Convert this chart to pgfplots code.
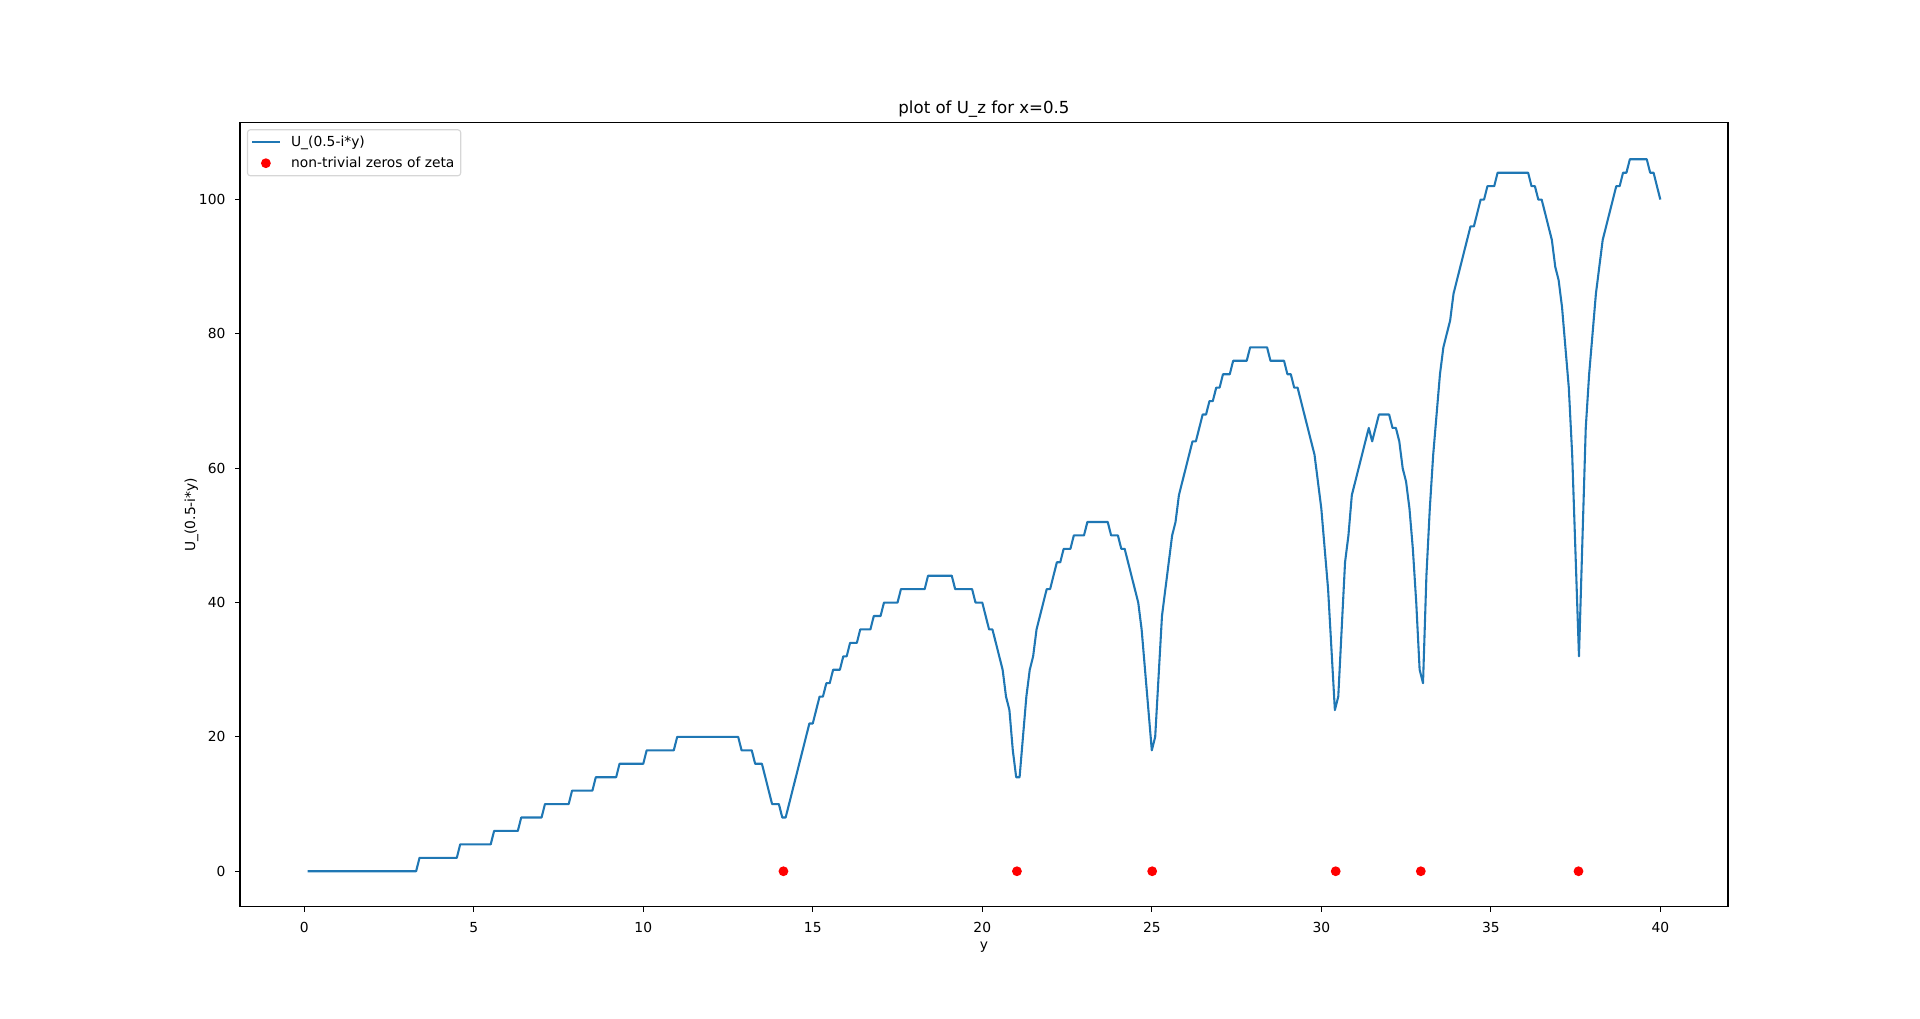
\documentclass[border=0pt]{standalone}
\usepackage{fontspec}
\setmainfont{DejaVu Sans}
\usepackage{pgfplots}
\pgfplotsset{compat=1.18}
\definecolor{mplblue}{RGB}{31,119,180}
\definecolor{legendedge}{gray}{0.84}
\pgfplotsset{
  linelegend/.style={legend image code/.code={\draw[##1] (0bp,0bp) -- (20bp,0bp);}},
  dotlegend/.style={legend image code/.code={\path (0bp,0bp) (20bp,0bp);
    \draw[##1] plot coordinates {(10bp,0bp)};}},
}

\begin{document}
\begin{tikzpicture}
% figure 19.2in x 10.19in, axes at matplotlib default subplot params
\path[use as bounding box] (-2.4in,-1.1209in) rectangle (16.8in,9.0691in);
\begin{axis}[
  scale only axis,
  width=14.88in, height=7.8463in,
  xmin=-1.895, xmax=41.995, ymin=-5.31, ymax=111.51,
  xtick={0,5,...,40}, ytick={0,20,...,100},
  tick pos=left, tick align=outside,
  major tick length=3.5bp,
  every tick/.style={black, line width=0.8bp},
  axis line style={line width=0.8bp},
  /pgf/number format/assume math mode=true,
  tick label style={font=\fontsize{10}{12}\selectfont},
  xticklabel style={yshift=-4bp},
  yticklabel style={xshift=-3.5bp},
  label style={font=\fontsize{10}{12}\selectfont},
  xlabel={y}, ylabel={U\_(0.5-i*y)},
  ylabel style={yshift=-6.5bp},
  title={plot of U\_z for x=0.5},
  every axis title shift=0pt,
  title style={font=\fontsize{12}{14.4}\selectfont, at={(0.5,1)}, anchor=base, yshift=6bp, inner sep=0pt},
  legend style={at={(0,1)}, anchor=north west, xshift=5bp, yshift=-5bp,
    draw=legendedge, fill=white, line width=0.8bp, rounded corners=2bp,
    font=\fontsize{10}{12}\selectfont, inner xsep=2.5bp, inner ysep=2.5bp,
    column sep=5.4bp, row sep=2bp},
  legend cell align=left,
]
\addplot[color=mplblue, line width=1.5bp, line join=round, linelegend]
  coordinates {
  (0.1,0) (3.3,0) (3.4,2) (4.5,2) (4.6,4) (5.5,4) (5.6,6) (6.3,6) (6.4,8)
  (7.0,8) (7.1,10) (7.8,10) (7.9,12) (8.5,12) (8.6,14) (9.2,14) (9.3,16)
  (10.0,16) (10.1,18) (10.9,18) (11.0,20) (12.8,20) (12.9,18) (13.2,18)
  (13.3,16) (13.5,16) (13.8,10) (14.0,10) (14.1,8) (14.2,8) (14.9,22)
  (15.0,22) (15.2,26) (15.3,26) (15.4,28) (15.5,28) (15.6,30) (15.8,30)
  (15.9,32) (16.0,32) (16.1,34) (16.3,34) (16.4,36) (16.7,36) (16.8,38)
  (17.0,38) (17.1,40) (17.5,40) (17.6,42) (18.3,42) (18.4,44) (19.1,44)
  (19.2,42) (19.7,42) (19.8,40) (20.0,40) (20.2,36) (20.3,36) (20.6,30)
  (20.7,26) (20.8,24) (20.9,18) (21.0,14) (21.1,14) (21.3,26) (21.4,30)
  (21.5,32) (21.6,36) (21.9,42) (22.0,42) (22.2,46) (22.3,46) (22.4,48)
  (22.6,48) (22.7,50) (23.0,50) (23.1,52) (23.7,52) (23.8,50) (24.0,50)
  (24.1,48) (24.2,48) (24.6,40) (24.7,36) (25.0,18) (25.1,20) (25.3,38)
  (25.6,50) (25.7,52) (25.8,56) (26.2,64) (26.3,64) (26.5,68) (26.6,68)
  (26.7,70) (26.8,70) (26.9,72) (27.0,72) (27.1,74) (27.3,74) (27.4,76)
  (27.8,76) (27.9,78) (28.4,78) (28.5,76) (28.9,76) (29.0,74) (29.1,74)
  (29.2,72) (29.3,72) (29.8,62) (30.0,54) (30.2,42) (30.4,24) (30.5,26)
  (30.7,46) (30.8,50) (30.9,56) (31.4,66) (31.5,64) (31.7,68) (32.0,68)
  (32.1,66) (32.2,66) (32.3,64) (32.4,60) (32.5,58) (32.6,54) (32.7,48)
  (32.8,40) (32.9,30) (33.0,28) (33.1,44) (33.2,54) (33.3,62) (33.4,68)
  (33.5,74) (33.6,78) (33.7,80) (33.8,82) (33.9,86) (34.2,92) (34.4,96)
  (34.5,96) (34.7,100) (34.8,100) (34.9,102) (35.1,102) (35.2,104)
  (35.6,104) (36.1,104) (36.2,102) (36.3,102) (36.4,100) (36.5,100)
  (36.8,94) (36.9,90) (37.0,88) (37.1,84) (37.3,72) (37.4,62) (37.6,32)
  (37.8,66) (37.9,74) (38.1,86) (38.3,94) (38.7,102) (38.8,102) (38.9,104)
  (39.0,104) (39.1,106) (39.6,106) (39.7,104) (39.8,104) (40.0,100)
  };
\addlegendentry{U\_(0.5-i*y)}
\addplot[only marks, mark=*, mark size=3bp, color=red, line width=1bp, dotlegend]
  coordinates {
  (14.1347,0) (21.0220,0) (25.0109,0) (30.4249,0) (32.9351,0) (37.5862,0)
  };
\addlegendentry{non-trivial zeros of zeta}
\end{axis}
\end{tikzpicture}
\end{document}
